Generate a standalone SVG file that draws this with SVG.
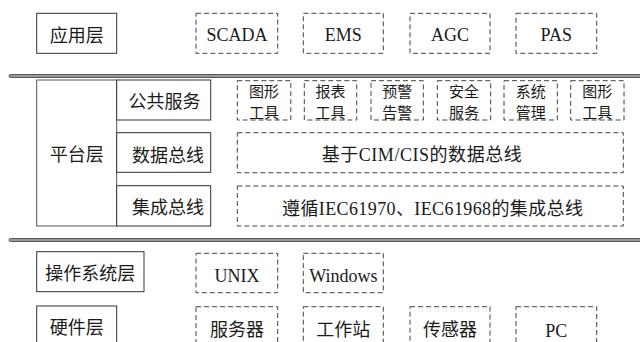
<svg xmlns="http://www.w3.org/2000/svg" width="640" height="342" viewBox="0 0 640 342">
<style>
.box{fill:#fff;stroke:#333;stroke-width:1}
.dash{fill:none;stroke:#444;stroke-width:1;stroke-dasharray:5,3}
.sep{fill:#9a9a9a;stroke:#3c3c3c;stroke-width:0.8}
text{font-family:"Liberation Serif","Noto Sans CJK SC",serif;fill:#1a1a1a;text-anchor:middle}
.t18{font-size:18px}
.t15{font-size:15px}
</style>
<rect width="640" height="342" fill="#fff"/>
<g id="separators">
<rect class="sep" x="9" y="74.5" width="640" height="3" rx="1.5"/>
<rect class="sep" x="9" y="238.5" width="640" height="3" rx="1.5"/>
</g>
<g id="app-layer">
<rect class="box" x="36.7" y="13.3" width="80" height="40"/>
<text class="t18" x="76.7" y="41.5">应用层</text>
</g>
<g id="scada"><rect class="dash" x="196" y="13.3" width="81.7" height="40"/><text class="t18" x="237" y="41">SCADA</text></g>
<g id="ems"><rect class="dash" x="303.3" y="13.3" width="80" height="40"/><text class="t18" x="343.3" y="41">EMS</text></g>
<g id="agc"><rect class="dash" x="410" y="13.3" width="80" height="40"/><text class="t18" x="450" y="41">AGC</text></g>
<g id="pas"><rect class="dash" x="516" y="13.3" width="80.7" height="40"/><text class="t18" x="556.3" y="41">PAS</text></g>

<g id="platform-layer">
<rect class="box" x="36.7" y="80" width="80" height="146" style="stroke:#555"/>
<text class="t18" x="76.7" y="161">平台层</text>
</g>
<g id="public-service">
<rect class="box" x="116.7" y="80" width="94" height="40"/>
<text class="t18" x="164.5" y="108">公共服务</text>
</g>
<g id="data-bus">
<rect class="box" x="116.7" y="132.7" width="94" height="39.6"/>
<text class="t18" x="168" y="161.5">数据总线</text>
</g>
<g id="integration-bus">
<rect class="box" x="116.7" y="185.7" width="94" height="40.3"/>
<text class="t18" x="168" y="213.5">集成总线</text>
</g>
<g id="tool1"><rect class="dash" x="237.3" y="80.7" width="53.5" height="39.3"/><text class="t15" x="264" y="96.7">图形</text><text class="t15" x="264" y="117.7">工具</text></g>
<g id="tool2"><rect class="dash" x="304.3" y="80.7" width="52.4" height="39.3"/><text class="t15" x="330.5" y="96.7">报表</text><text class="t15" x="330.5" y="117.7">工具</text></g>
<g id="tool3"><rect class="dash" x="371" y="80.7" width="52.3" height="39.3"/><text class="t15" x="397.2" y="96.7">预警</text><text class="t15" x="397.2" y="117.7">告警</text></g>
<g id="tool4"><rect class="dash" x="437.3" y="80.7" width="53.4" height="39.3"/><text class="t15" x="464" y="96.7">安全</text><text class="t15" x="464" y="117.7">服务</text></g>
<g id="tool5"><rect class="dash" x="504" y="80.7" width="53.3" height="39.3"/><text class="t15" x="530.7" y="96.7">系统</text><text class="t15" x="530.7" y="117.7">管理</text></g>
<g id="tool6"><rect class="dash" x="570.7" y="80.7" width="53.3" height="39.3"/><text class="t15" x="597.3" y="96.7">图形</text><text class="t15" x="597.3" y="117.7">工具</text></g>
<g id="cim-bus">
<rect class="dash" x="237.3" y="132.7" width="386" height="40"/>
<text class="t18" x="321.7" y="161" style="text-anchor:start" textLength="200" lengthAdjust="spacing">基于CIM/CIS的数据总线</text>
</g>
<g id="iec-bus">
<rect class="dash" x="237.3" y="186" width="386" height="40"/>
<text class="t18" x="282" y="215" style="text-anchor:start" textLength="301" lengthAdjust="spacing">遵循IEC61970、IEC61968的集成总线</text>
</g>

<g id="os-layer">
<rect class="box" x="36.7" y="251.7" width="107.3" height="40"/>
<text class="t18" x="90.3" y="280">操作系统层</text>
</g>
<g id="unix"><rect class="dash" x="196" y="253.3" width="81.7" height="39.4"/><text class="t18" x="237" y="282">UNIX</text></g>
<g id="windows"><rect class="dash" x="303.3" y="253.3" width="80" height="39.4"/><text class="t18" x="343.3" y="282">Windows</text></g>

<g id="hw-layer">
<rect class="box" x="36.7" y="306" width="80" height="45"/>
<text class="t18" x="76.7" y="333.5">硬件层</text>
</g>
<g id="server"><rect class="dash" x="196" y="306.7" width="81.7" height="45"/><text class="t18" x="237" y="336">服务器</text></g>
<g id="workstation"><rect class="dash" x="303.3" y="306.7" width="80" height="45"/><text class="t18" x="343.3" y="336">工作站</text></g>
<g id="sensor"><rect class="dash" x="410" y="306.7" width="80" height="45"/><text class="t18" x="450" y="336">传感器</text></g>
<g id="pc"><rect class="dash" x="516" y="306.7" width="80.7" height="45"/><text class="t18" x="556.3" y="337">PC</text></g>
</svg>
